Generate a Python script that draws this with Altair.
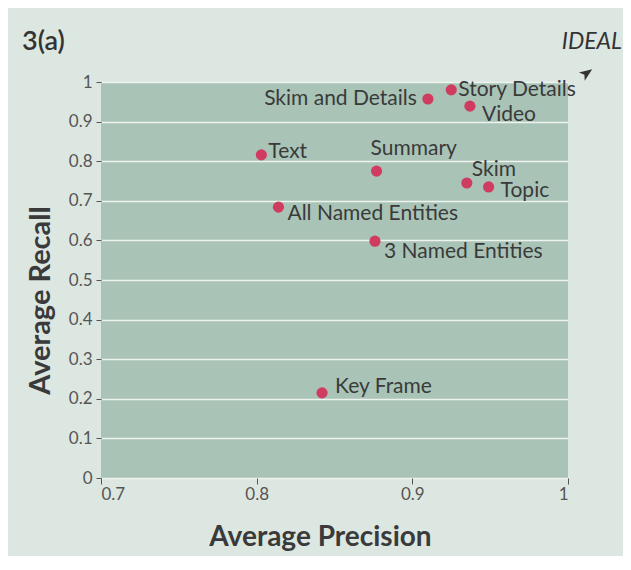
import altair as alt
import pandas as pd

# ---- data ----
methods = ["Text", "Skim and Details", "Story Details", "Video", "Summary",
           "Skim", "Topic", "All Named Entities", "3 Named Entities", "Key Frame"]
precision = [0.803, 0.910, 0.925, 0.937, 0.877, 0.935, 0.949, 0.814, 0.876, 0.842]
recall = [0.816, 0.957, 0.980, 0.939, 0.775, 0.745, 0.735, 0.684, 0.598, 0.215]

x_ticks = [0.7, 0.8, 0.9, 1.0]
y_ticks = [0, 0.1, 0.2, 0.3, 0.4, 0.5, 0.6, 0.7, 0.8, 0.9, 1.0]

df = pd.DataFrame({"method": methods, "precision": precision, "recall": recall})

# label placement (style only): align, dx, dy
label_style = {
    "Text": ("left", 7, -3),
    "Skim and Details": ("right", -11, 0),
    "Story Details": ("left", 7, 0),
    "Video": ("left", 12, 9),
    "Summary": ("left", -6, -22),
    "Skim": ("left", 5, -13),
    "Topic": ("left", 12, 4),
    "All Named Entities": ("left", 9, 7),
    "3 Named Entities": ("left", 9, 11),
    "Key Frame": ("left", 13, -6),
}

FONT = "Lato"
W, H = 467, 396

x_axis = alt.Axis(values=x_ticks, format=".1~f", grid=False, domain=False,
                  tickSize=6, tickColor="#555", labelPadding=2, labelOverlap=False,
                  labelFontSize=17, labelColor="#555", labelFont=FONT,
                  title="Average Precision", titleFont=FONT, titleFontSize=28,
                  titleFontWeight="bold", titleColor="#3a3a3a",
                  titleX=219, titleY=59, titleAlign="center",
                  titleBaseline="middle", titleAnchor="start")
y_axis = alt.Axis(values=y_ticks, format=".1~f", grid=True, gridColor="#eef3f0",
                  gridWidth=1.5, domain=False, tickSize=5, tickColor="#555",
                  labelPadding=4, labelOverlap=False, labelFontSize=17,
                  labelColor="#555", labelFont=FONT,
                  title="Average Recall", titleFont=FONT, titleFontSize=29,
                  titleFontWeight="bold", titleColor="#3a3a3a",
                  titleAngle=270, titleX=-61, titleY=218,
                  titleAlign="center", titleBaseline="middle",
                  titleAnchor="start")

xs = alt.X("precision:Q", scale=alt.Scale(domain=[0.7, 1.0], nice=False, zero=False),
           axis=x_axis)
ys = alt.Y("recall:Q", scale=alt.Scale(domain=[0, 1.0], nice=False), axis=y_axis)

base = alt.Chart(df)

points = base.mark_circle(size=125, color="#cf3c60", opacity=1).encode(x=xs, y=ys)

label_layers = []
for m in methods:
    al, dx, dy = label_style[m]
    label_layers.append(
        base.transform_filter(alt.datum.method == m)
        .mark_text(align=al, baseline="middle", dx=dx, dy=dy, font=FONT,
                   fontSize=21, color="#3a3a3a")
        .encode(x=xs, y=ys, text="method:N")
    )

panel_title = alt.Chart(pd.DataFrame({"t": ["3(a)"]})).mark_text(
    align="left", baseline="middle", font=FONT, fontSize=27, fontWeight=600,
    color="#333").encode(x=alt.value(-79), y=alt.value(-40), text="t:N")

ideal = alt.Chart(pd.DataFrame({"t": ["IDEAL"]})).mark_text(
    align="right", baseline="middle", font=FONT, fontSize=23, fontStyle="italic",
    color="#333").encode(x=alt.value(521), y=alt.value(-40), text="t:N")

arrow = alt.Chart(pd.DataFrame({"t": ["a"]})).mark_point(
    shape="M-1,-0.8L1,0L-1,0.8L-0.5,0Z", filled=True, size=160, angle=325,
    color="#333", opacity=1).encode(x=alt.value(486), y=alt.value(-9))

chart = alt.layer(points, *label_layers, panel_title, ideal, arrow).properties(
    width=W, height=H,
    autosize=alt.AutoSizeParams(type="none"),
    padding={"left": 93, "top": 74, "right": 55, "bottom": 78},
    background="#dde7e2",
).configure_view(fill="#a9c4b7", stroke=None)

chart.save("out.html", embed_options={"renderer": "svg", "actions": False})
